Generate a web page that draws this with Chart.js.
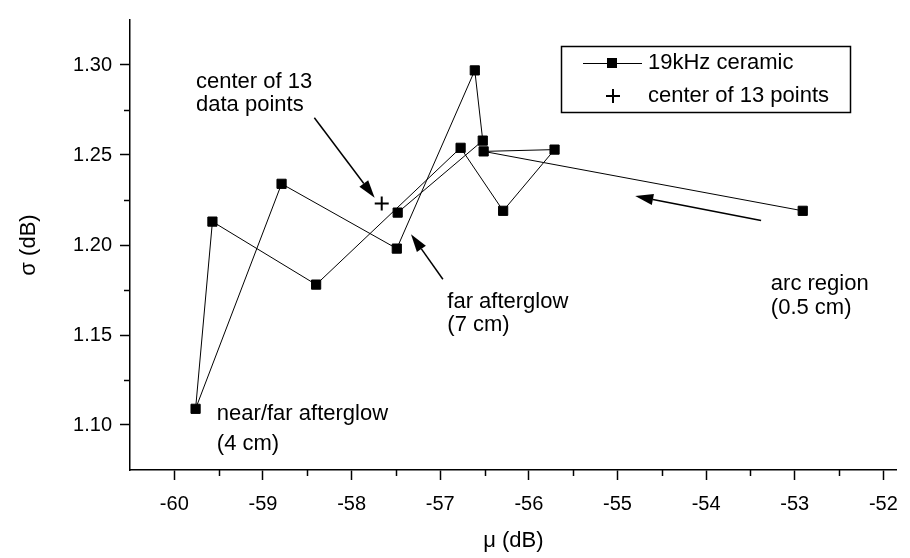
<!DOCTYPE html>
<html>
<head>
<meta charset="utf-8">
<script src="https://cdn.jsdelivr.net/npm/chart.js@4.4.0/dist/chart.umd.min.js"></script>
<style>
    html, body { margin: 0; padding: 0; background: #fff; }
    #wrap { width: 910px; height: 558px; }
</style>
</head>
<body>
<div id="wrap"><canvas id="chart" width="910" height="558"></canvas></div>
<script>
// measured points, in the order the line joins them
const muValues = [-57.48, -56.52, -56.61, -57.49, -58.79, -59.76, -59.57, -58.40, -56.77, -56.29, -55.71, -56.51, -52.91];
const sigmaValues = [1.218, 1.258, 1.297, 1.198, 1.234, 1.109, 1.213, 1.178, 1.254, 1.219, 1.253, 1.252, 1.219];
const centerMu = [-57.66];
const centerSigma = [1.223];
const seriesNames = ['19kHz ceramic', 'center of 13 points'];
const xTickValues = [-60, -59, -58, -57, -56, -55, -54, -53, -52];
const yTickValues = [1.10, 1.15, 1.20, 1.25, 1.30];

const FONT = '"Liberation Sans", Arial, sans-serif';

// text notes and arrows, placed in data units
const notes = [
    { lines: ['center of 13', 'data points'], mu: -59.755, sigma: [1.2908, 1.2777] },
    { lines: ['near/far afterglow', '(4 cm)'], mu: -59.52, sigma: [1.106, 1.0897] },
    { lines: ['far afterglow', '(7 cm)'], mu: -56.92, sigma: [1.1685, 1.1554] },
    { lines: ['arc region', '(0.5 cm)'], mu: -53.27, sigma: [1.1783, 1.1652] }
];
const arrows = [
    { from: [-58.42, 1.2707], to: [-57.74, 1.2262] },
    { from: [-56.97, 1.1810], to: [-57.33, 1.2060] },
    { from: [-53.38, 1.2136], to: [-54.80, 1.2272] }
];

const points = muValues.map((x, i) => ({ x, y: sigmaValues[i] }));
const centerPoints = centerMu.map((x, i) => ({ x, y: centerSigma[i] }));

function drawArrow(ctx, x1, y1, x2, y2) {
    const ang = Math.atan2(y2 - y1, x2 - x1);
    const headLen = 18, headW = 5.5;
    const bx = x2 - headLen * Math.cos(ang), by = y2 - headLen * Math.sin(ang);
    ctx.beginPath();
    ctx.moveTo(x1, y1);
    ctx.lineTo(bx, by);
    ctx.lineWidth = 1.5;
    ctx.stroke();
    ctx.beginPath();
    ctx.moveTo(x2, y2);
    ctx.lineTo(bx + headW * Math.sin(ang), by - headW * Math.cos(ang));
    ctx.lineTo(bx - headW * Math.sin(ang), by + headW * Math.cos(ang));
    ctx.closePath();
    ctx.fill();
}

const extrasPlugin = {
    id: 'extras',
    afterDraw(chart) {
        const { ctx, scales: { x, y } } = chart;
        ctx.save();
        ctx.strokeStyle = '#000';
        ctx.fillStyle = '#000';

        // minor ticks
        ctx.lineWidth = 1.5;
        for (let v = 1.125; v < 1.3; v += 0.05) {
            const py = Math.round(y.getPixelForValue(v)) + 0.5;
            ctx.beginPath();
            ctx.moveTo(x.left - 6, py);
            ctx.lineTo(x.left, py);
            ctx.stroke();
        }
        for (let v = -59.5; v < -52; v += 1) {
            const px = Math.round(x.getPixelForValue(v)) + 0.5;
            ctx.beginPath();
            ctx.moveTo(px, y.bottom);
            ctx.lineTo(px, y.bottom + 6);
            ctx.stroke();
        }

        // notes
        ctx.font = '22px ' + FONT;
        ctx.textAlign = 'left';
        ctx.textBaseline = 'middle';
        notes.forEach(n => {
            n.lines.forEach((t, i) => {
                ctx.fillText(t, x.getPixelForValue(n.mu), y.getPixelForValue(n.sigma[i]));
            });
        });
        arrows.forEach(a => {
            drawArrow(ctx,
                x.getPixelForValue(a.from[0]), y.getPixelForValue(a.from[1]),
                x.getPixelForValue(a.to[0]), y.getPixelForValue(a.to[1]));
        });

        // legend box
        const bx = 561, by = 46, bw = 289, bh = 66;
        ctx.lineWidth = 1.5;
        ctx.fillStyle = '#fff';
        ctx.fillRect(bx, by, bw, bh);
        ctx.strokeRect(bx + 0.5, by + 0.5, bw, bh);
        ctx.fillStyle = '#000';
        const r1 = by + 17, r2 = by + 50;
        ctx.lineWidth = 1;
        ctx.beginPath();
        ctx.moveTo(583, r1 + 0.5);
        ctx.lineTo(642, r1 + 0.5);
        ctx.stroke();
        ctx.fillRect(607, r1 - 5, 10, 10);
        ctx.lineWidth = 2;
        ctx.beginPath();
        ctx.moveTo(606, r2);
        ctx.lineTo(620, r2);
        ctx.moveTo(613, r2 - 7);
        ctx.lineTo(613, r2 + 7);
        ctx.stroke();
        ctx.font = '22px ' + FONT;
        ctx.fillText(seriesNames[0], 648, r1);
        ctx.fillText(seriesNames[1], 648, r2);
        ctx.restore();
    }
};

new Chart(document.getElementById('chart').getContext('2d'), {
    type: 'scatter',
    data: {
        datasets: [{
            label: seriesNames[0],
            data: points,
            showLine: true,
            borderColor: '#000',
            borderWidth: 1,
            backgroundColor: '#000',
            pointStyle: 'rect',
            pointRadius: 6.5,
            pointBorderWidth: 1,
            pointBorderColor: '#000',
            pointBackgroundColor: '#000'
        }, {
            label: seriesNames[1],
            data: centerPoints,
            pointStyle: 'cross',
            pointRadius: 7,
            pointBorderWidth: 2,
            pointBorderColor: '#000'
        }]
    },
    options: {
        responsive: false,
        animation: false,
        events: [],
        layout: { padding: { left: 0, top: 10, right: 2, bottom: 0 } },
        plugins: { legend: { display: false }, tooltip: { enabled: false } },
        scales: {
            x: {
                type: 'linear',
                min: -60.5,
                max: -51.85,
                afterFit: s => { s.height = 88; },
                afterBuildTicks: s => { s.ticks = xTickValues.map(value => ({ value })); },
                border: { display: true, color: '#000', width: 1.5 },
                grid: { drawOnChartArea: false, color: '#000', tickLength: 10, tickWidth: 1.5 },
                ticks: { color: '#000', padding: 12, font: { family: FONT, size: 20 }, callback: v => String(v) },
                title: { display: true, text: 'μ (dB)', color: '#000', font: { family: FONT, size: 22 }, padding: { top: 0, bottom: 4 } }
            },
            y: {
                type: 'linear',
                min: 1.075,
                max: 1.325,
                afterFit: s => { s.width = 130; },
                afterBuildTicks: s => { s.ticks = yTickValues.map(value => ({ value })); },
                border: { display: true, color: '#000', width: 1.5 },
                grid: { drawOnChartArea: false, color: '#000', tickLength: 10, tickWidth: 1.5 },
                ticks: { color: '#000', padding: 8, font: { family: FONT, size: 20 }, callback: v => v.toFixed(2) },
                title: { display: true, text: 'σ (dB)', color: '#000', font: { family: FONT, size: 22 }, padding: { top: 16, bottom: 0 } }
            }
        }
    },
    plugins: [extrasPlugin]
});
</script>
</body>
</html>
